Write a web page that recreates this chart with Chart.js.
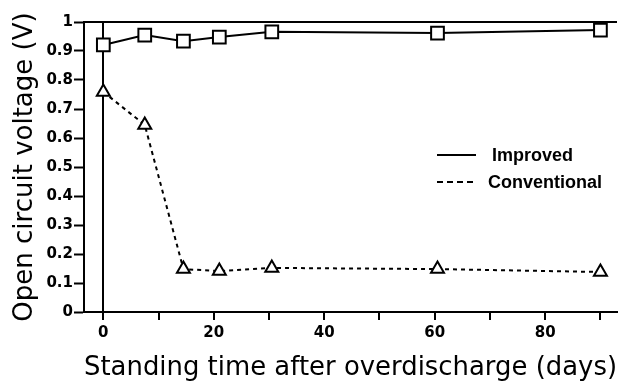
<!DOCTYPE html>
<html>
<head>
<meta charset="utf-8">
<script src="https://cdn.jsdelivr.net/npm/chart.js@4"></script>
<style>
  html, body { margin: 0; padding: 0; background: #fff; }
  #wrap { width: 628px; height: 381px; }
</style>
</head>
<body>
<div id="wrap"><canvas id="ocvChart"></canvas></div>
<script>
// Values
const improvedDays = [0, 7.5, 14.5, 21, 30.5, 60.5, 90];
const improvedVolts = [0.921, 0.955, 0.934, 0.948, 0.966, 0.962, 0.972];
const conventionalDays = [0, 7.5, 14.5, 21, 30.5, 60.5, 90];
const conventionalVolts = [0.759, 0.645, 0.148, 0.141, 0.152, 0.148, 0.138];
const xTicks = [0, 10, 20, 30, 40, 50, 60, 70, 80, 90];
const yTicks = [0, 0.1, 0.2, 0.3, 0.4, 0.5, 0.6, 0.7, 0.8, 0.9, 1];

const FONT = "'DejaVu Sans', sans-serif";
const TICK_FONT = { family: "'DejaVu Sans', sans-serif", size: 15, weight: 'bold' };

function toPoints(xs, ys) {
    return xs.map((x, i) => ({ x: x, y: ys[i] }));
}

// Top frame line and the in-plot legend
const framePlugin = {
    id: 'framePlugin',
    afterDraw(chart) {
        const ctx = chart.ctx;
        const area = chart.chartArea;
        ctx.save();
        ctx.strokeStyle = '#000';
        ctx.lineWidth = 2;
        ctx.beginPath();
        ctx.moveTo(area.left, area.top);
        ctx.lineTo(area.right, area.top);
        ctx.stroke();

        // legend
        const rows = [
            { label: chart.data.datasets[0].label, dash: [], y: 155, tx: 492 },
            { label: chart.data.datasets[1].label, dash: [6, 4], y: 182, tx: 488 }
        ];
        ctx.font = "bold 18px 'Liberation Sans', Arial, sans-serif";
        ctx.fillStyle = '#000';
        ctx.textBaseline = 'middle';
        rows.forEach(r => {
            ctx.setLineDash(r.dash);
            ctx.beginPath();
            ctx.moveTo(437, r.y);
            ctx.lineTo(476, r.y);
            ctx.stroke();
            ctx.setLineDash([]);
            ctx.fillText(r.label, r.tx, r.y + 1);
        });
        ctx.restore();
    }
};

new Chart(document.getElementById('ocvChart'), {
    type: 'scatter',
    data: {
        datasets: [{
            label: 'Improved',
            data: toPoints(improvedDays, improvedVolts),
            showLine: true,
            borderColor: '#000',
            borderWidth: 2,
            pointStyle: 'rect',
            pointRadius: 9,
            pointBorderWidth: 2,
            pointBackgroundColor: '#fff',
            pointBorderColor: '#000'
        }, {
            label: 'Conventional',
            data: toPoints(conventionalDays, conventionalVolts),
            showLine: true,
            borderColor: '#000',
            borderWidth: 2,
            borderDash: [4, 4],
            pointStyle: 'triangle',
            pointRadius: 7.5,
            pointBorderWidth: 2,
            pointBackgroundColor: '#fff',
            pointBorderColor: '#000'
        }]
    },
    options: {
        responsive: true,
        maintainAspectRatio: false,
        animation: false,
        layout: { padding: { top: 22, right: 0, left: 0, bottom: 0 } },
        plugins: {
            legend: { display: false },
            tooltip: { enabled: false }
        },
        scales: {
            x: {
                type: 'linear',
                min: -3.5,
                max: 93,
                afterBuildTicks: scale => { scale.ticks = xTicks.map(v => ({ value: v })); },
                afterFit: scale => { scale.height = 69; },
                ticks: {
                    color: '#000',
                    font: TICK_FONT,
                    padding: 4,
                    maxRotation: 0,
                    autoSkip: false,
                    callback: v => (v % 20 === 0 ? String(v) : '')
                },
                grid: {
                    drawOnChartArea: true,
                    color: c => (c.tick && c.tick.value === 0 ? '#000' : 'rgba(0,0,0,0)'),
                    lineWidth: 2,
                    tickColor: '#000',
                    tickLength: 8,
                    tickWidth: 2
                },
                border: { color: '#000', width: 2 },
                title: {
                    display: true,
                    text: 'Standing time after overdischarge (days)',
                    color: '#000',
                    font: { family: FONT, size: 26 },
                    padding: { top: 4, bottom: -3 }
                }
            },
            y: {
                type: 'linear',
                min: 0,
                max: 1,
                afterBuildTicks: scale => { scale.ticks = yTicks.map(v => ({ value: v })); },
                afterFit: scale => { scale.width = 84; },
                ticks: {
                    color: '#000',
                    font: TICK_FONT,
                    padding: 1,
                    callback: v => (v === 0 || v === 1 ? String(v) : v.toFixed(1))
                },
                grid: {
                    drawOnChartArea: false,
                    tickColor: '#000',
                    tickLength: 10,
                    tickWidth: 2
                },
                border: { color: '#000', width: 2 },
                title: {
                    display: true,
                    text: 'Open circuit voltage (V)',
                    color: '#000',
                    font: { family: FONT, size: 26 },
                    padding: { top: 10, bottom: 0 }
                }
            }
        }
    },
    plugins: [framePlugin]
});
</script>
</body>
</html>
